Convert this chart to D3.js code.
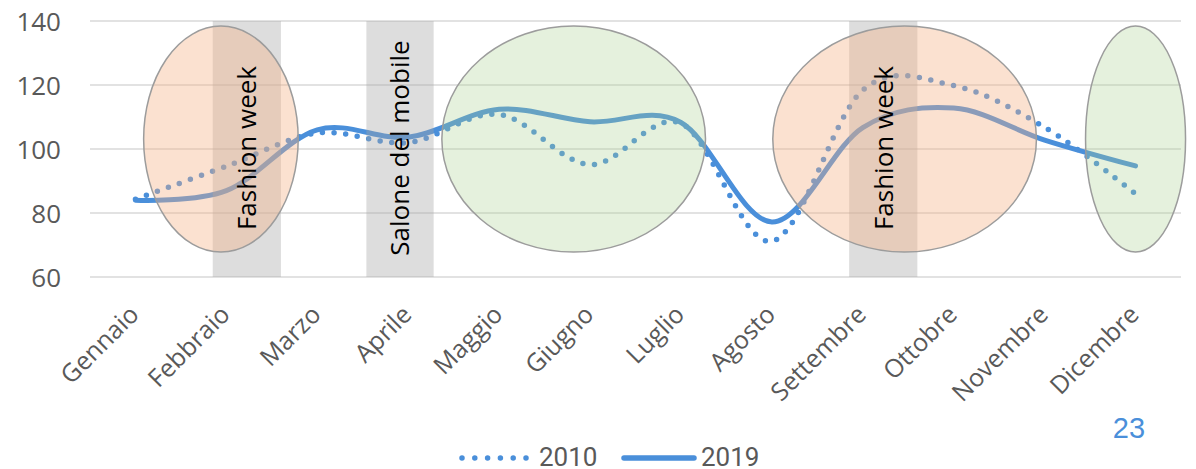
<!DOCTYPE html>
<html>
<head>
<meta charset="utf-8">
<script src="https://cdn.jsdelivr.net/npm/d3@7"></script>
<style>
  body { margin: 0; background: #fff; }
  svg { display: block; }
</style>
</head>
<body>
<div id="chart"></div>
<script>
var months = ["Gennaio", "Febbraio", "Marzo", "Aprile", "Maggio", "Giugno",
  "Luglio", "Agosto", "Settembre", "Ottobre", "Novembre", "Dicembre"];
var values2010 = [84.3, 94.6, 105, 102, 110.8, 95.1, 108, 71.2, 118.4, 119.8, 106.8, 86];
var values2019 = [84, 87, 106, 103.7, 112.4, 108.5, 108.3, 77.2, 106.7, 112.8, 102.8, 94.7];
var yTicks = [60, 80, 100, 120, 140];
var seriesNames = ["2010", "2019"];

// events: grey bands, positions in month index units
var eventBands = [
  { from: 0.85, to: 1.60, label: "Fashion week" },
  { from: 2.54, to: 3.28, label: "Salone del mobile" },
  { from: 7.85, to: 8.60, label: "Fashion week" }
];
// season ellipses (month index, value)
var seasons = [
  { cx: 0.94, rx: 0.85, kind: "hot" },
  { cx: 4.82, rx: 1.45, kind: "calm" },
  { cx: 8.46, rx: 1.45, kind: "hot" },
  { cx: 11.0, rx: 0.55, kind: "calm" }
];
var seasonTop = 138.4, seasonBottom = 67.8;
var pageNumber = "23";

var width = 1196, height = 469;
var margin = { top: 21, right: 15, bottom: 192, left: 90 };
var innerWidth = width - margin.left - margin.right;
var innerHeight = height - margin.top - margin.bottom;
var blue = "#4A8FDA";

var svg = d3.select("#chart").append("svg")
  .attr("width", width)
  .attr("height", height);

var g = svg.append("g")
  .attr("transform", "translate(" + margin.left + "," + margin.top + ")");

var x = d3.scaleBand().domain(months).range([0, innerWidth]);
var y = d3.scaleLinear().domain([60, 140]).range([innerHeight, 0]);
var bw = x.bandwidth();
// fractional month index -> pixel
var xi = d3.scaleLinear().domain([0, months.length - 1])
  .range([x(months[0]) + bw / 2, x(months[months.length - 1]) + bw / 2]);

// gridlines
g.selectAll(".grid")
  .data(yTicks)
  .enter().append("line")
  .attr("x1", 0)
  .attr("x2", innerWidth)
  .attr("y1", function(d) { return y(d); })
  .attr("y2", function(d) { return y(d); })
  .attr("stroke", "#D9D9D9")
  .attr("stroke-width", 1.5);

// y labels
g.selectAll(".ylab")
  .data(yTicks)
  .enter().append("text")
  .attr("x", -29)
  .attr("y", function(d) { return y(d); })
  .attr("dy", "0.37em")
  .attr("text-anchor", "end")
  .attr("font-family", "Open Sans, sans-serif")
  .attr("font-size", 26)
  .attr("fill", "#595959")
  .text(function(d) { return d; });

// x labels
var xAxis = g.append("g")
  .attr("transform", "translate(0," + innerHeight + ")")
  .call(d3.axisBottom(x).tickSize(0));
xAxis.select(".domain").remove();
xAxis.selectAll("text")
  .attr("font-family", "Open Sans, sans-serif")
  .attr("font-size", 25)
  .attr("fill", "#595959")
  .attr("text-anchor", "end")
  .attr("x", 0)
  .attr("y", 0)
  .attr("dy", 0)
  .attr("transform", "translate(5,39) rotate(-45)");

// lines
var line = d3.line()
  .x(function(d, i) { return x(months[i]) + bw / 2; })
  .y(function(d) { return y(d); })
  .curve(d3.curveCardinal.tension(0));

g.append("path")
  .datum(values2019)
  .attr("fill", "none")
  .attr("stroke", blue)
  .attr("stroke-width", 5)
  .attr("stroke-linecap", "round")
  .attr("d", line);

g.append("path")
  .datum(values2010)
  .attr("fill", "none")
  .attr("stroke", blue)
  .attr("stroke-width", 5.5)
  .attr("stroke-linecap", "round")
  .attr("stroke-dasharray", "0,11.7")
  .attr("d", line);

// grey event bands
g.selectAll(".band")
  .data(eventBands)
  .enter().append("rect")
  .attr("x", function(d) { return xi(d.from); })
  .attr("width", function(d) { return xi(d.to) - xi(d.from); })
  .attr("y", y(140))
  .attr("height", y(60) - y(140))
  .attr("fill", "#A6A6A6")
  .attr("fill-opacity", 0.38);

// ellipses
var seasonFill = { hot: "#F4B183", calm: "#A9D18E" };
var seasonOpacity = { hot: 0.38, calm: 0.3 };
g.selectAll(".season")
  .data(seasons)
  .enter().append("ellipse")
  .attr("cx", function(d) { return xi(d.cx); })
  .attr("cy", (y(seasonTop) + y(seasonBottom)) / 2)
  .attr("rx", function(d) { return xi(d.rx) - xi(0); })
  .attr("ry", (y(seasonBottom) - y(seasonTop)) / 2)
  .attr("fill", function(d) { return seasonFill[d.kind]; })
  .attr("fill-opacity", function(d) { return seasonOpacity[d.kind]; })
  .attr("stroke", "#9C9C9C")
  .attr("stroke-width", 1.5);

// band labels
g.selectAll(".bandlab")
  .data(eventBands)
  .enter().append("text")
  .attr("transform", function(d) {
    return "translate(" + xi((d.from + d.to) / 2) + "," + y(100.3) + ") rotate(-90)";
  })
  .attr("dy", "0.36em")
  .attr("text-anchor", "middle")
  .attr("font-family", "Open Sans, sans-serif")
  .attr("font-size", 26)
  .attr("fill", "#000")
  .text(function(d) { return d.label; });

// legend
var legend = svg.append("g");
legend.append("line")
  .attr("x1", 462).attr("x2", 527)
  .attr("y1", 458).attr("y2", 458)
  .attr("stroke", blue)
  .attr("stroke-width", 5.5)
  .attr("stroke-linecap", "round")
  .attr("stroke-dasharray", "0,12.8");
legend.append("text")
  .attr("x", 539).attr("y", 466)
  .attr("font-family", "Roboto, sans-serif")
  .attr("font-size", 26)
  .attr("fill", "#595959")
  .text(seriesNames[0]);
legend.append("line")
  .attr("x1", 624).attr("x2", 694)
  .attr("y1", 458).attr("y2", 458)
  .attr("stroke", blue)
  .attr("stroke-width", 5.5)
  .attr("stroke-linecap", "round");
legend.append("text")
  .attr("x", 701).attr("y", 466)
  .attr("font-family", "Roboto, sans-serif")
  .attr("font-size", 26)
  .attr("fill", "#595959")
  .text(seriesNames[1]);

// page number
svg.append("text")
  .attr("x", 1129).attr("y", 438)
  .attr("text-anchor", "middle")
  .attr("font-family", "Liberation Sans, Arial, sans-serif")
  .attr("font-size", 29)
  .attr("fill", blue)
  .text(pageNumber);
</script>
</body>
</html>
